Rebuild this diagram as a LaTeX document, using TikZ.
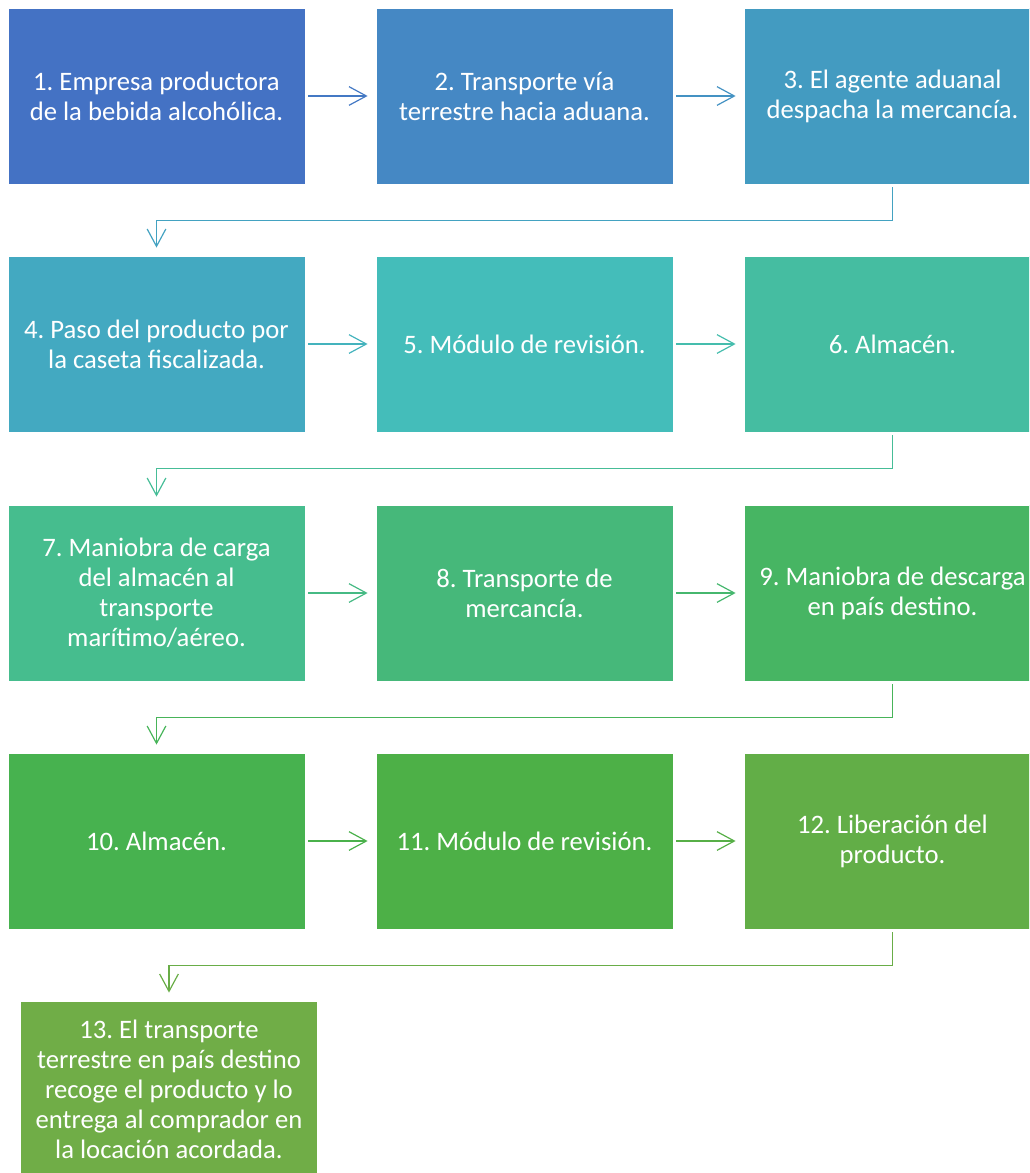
\documentclass[tikz,border=0pt]{standalone}
\usepackage{fontspec}
\setmainfont{Carlito}
\usetikzlibrary{arrows.meta}
\definecolor{stepA}{HTML}{4472C4}
\definecolor{stepB}{HTML}{4588C4}
\definecolor{stepC}{HTML}{439BC1}
\definecolor{stepD}{HTML}{43A9C1}
\definecolor{stepE}{HTML}{44BDBA}
\definecolor{stepF}{HTML}{45BDA1}
\definecolor{stepG}{HTML}{46BD8E}
\definecolor{stepH}{HTML}{46B87A}
\definecolor{stepI}{HTML}{47B563}
\definecolor{stepJ}{HTML}{47B24F}
\definecolor{stepK}{HTML}{4DB047}
\definecolor{stepL}{HTML}{62AE47}
\definecolor{stepM}{HTML}{70AD47}
\frenchspacing
\tikzset{
  stepbox/.style={rectangle, draw=white, line width=0.6pt, text=white, align=center,
    minimum width=222.75pt, minimum height=132pt, inner sep=0pt,
    font=\fontsize{20}{22.5}\selectfont},
  flow/.style={line width=0.9pt, -{Straight Barb[length=13pt, width=14pt, line width=0.9pt]},
    shorten <=2.25pt, shorten >=6pt},
}
\begin{document}
\begin{tikzpicture}[x=0.75pt, y=-0.75pt]
\useasboundingbox (0,0) rectangle (1029,1173);
\clip (0,0) rectangle (1029,1173);
% row 1
\node[stepbox, fill=stepA] (b1) at (156.5,96) {1. Empresa productora\\de la bebida alcohólica.};
\node[stepbox, fill=stepB] (b2) at (524.5,96) {2. Transporte vía\\terrestre hacia aduana.};
\node[stepbox, fill=stepC] (b3) at (892.5,96) {3. El agente aduanal\\despacha la mercancía.};
% row 2
\node[stepbox, fill=stepD] (b4) at (156.5,344) {4. Paso del producto por\\la caseta fiscalizada.};
\node[stepbox, fill=stepE] (b5) at (524.5,344) {5. Módulo de revisión.};
\node[stepbox, fill=stepF] (b6) at (892.5,344) {6. Almacén.};
% row 3
\node[stepbox, fill=stepG] (b7) at (156.5,593) {7. Maniobra de carga\\del almacén al\\transporte\\marítimo/aéreo.};
\node[stepbox, fill=stepH] (b8) at (524.5,593) {8. Transporte de\\mercancía.};
\node[stepbox, fill=stepI] (b9) at (892.5,593) {9. Maniobra de descarga\\en país destino.};
% row 4
\node[stepbox, fill=stepJ] (b10) at (156.5,841) {10. Almacén.};
\node[stepbox, fill=stepK] (b11) at (524.5,841) {11. Módulo de revisión.};
\node[stepbox, fill=stepL] (b12) at (892.5,841) {12. Liberación del\\producto.};
% last one
\node[stepbox, fill=stepM] (b13) at (169,1089) {13. El transporte\\terrestre en país destino\\recoge el producto y lo\\entrega al comprador en\\la locación acordada.};
% arrows within rows
\foreach \a/\b/\c in {1/2/stepA!70!stepB, 2/3/stepB!50!stepC, 4/5/stepD!50!stepE, 5/6/stepE!50!stepF,
    7/8/stepG!50!stepH, 8/9/stepH!50!stepI, 10/11/stepJ!50!stepK, 11/12/stepK!50!stepL}
  \draw[flow, \c] (b\a.east) -- (b\b.west);
% arrows between rows
\draw[flow, stepC!50!stepD] (b3.south) -- ++(0,36) -| (b4.north);
\draw[flow, stepF!50!stepG] (b6.south) -- ++(0,36) -| (b7.north);
\draw[flow, stepI!50!stepJ] (b9.south) -- ++(0,36) -| (b10.north);
\draw[flow, stepL!50!stepM] (b12.south) -- ++(0,36) -| (b13.north);
\end{tikzpicture}
\end{document}
